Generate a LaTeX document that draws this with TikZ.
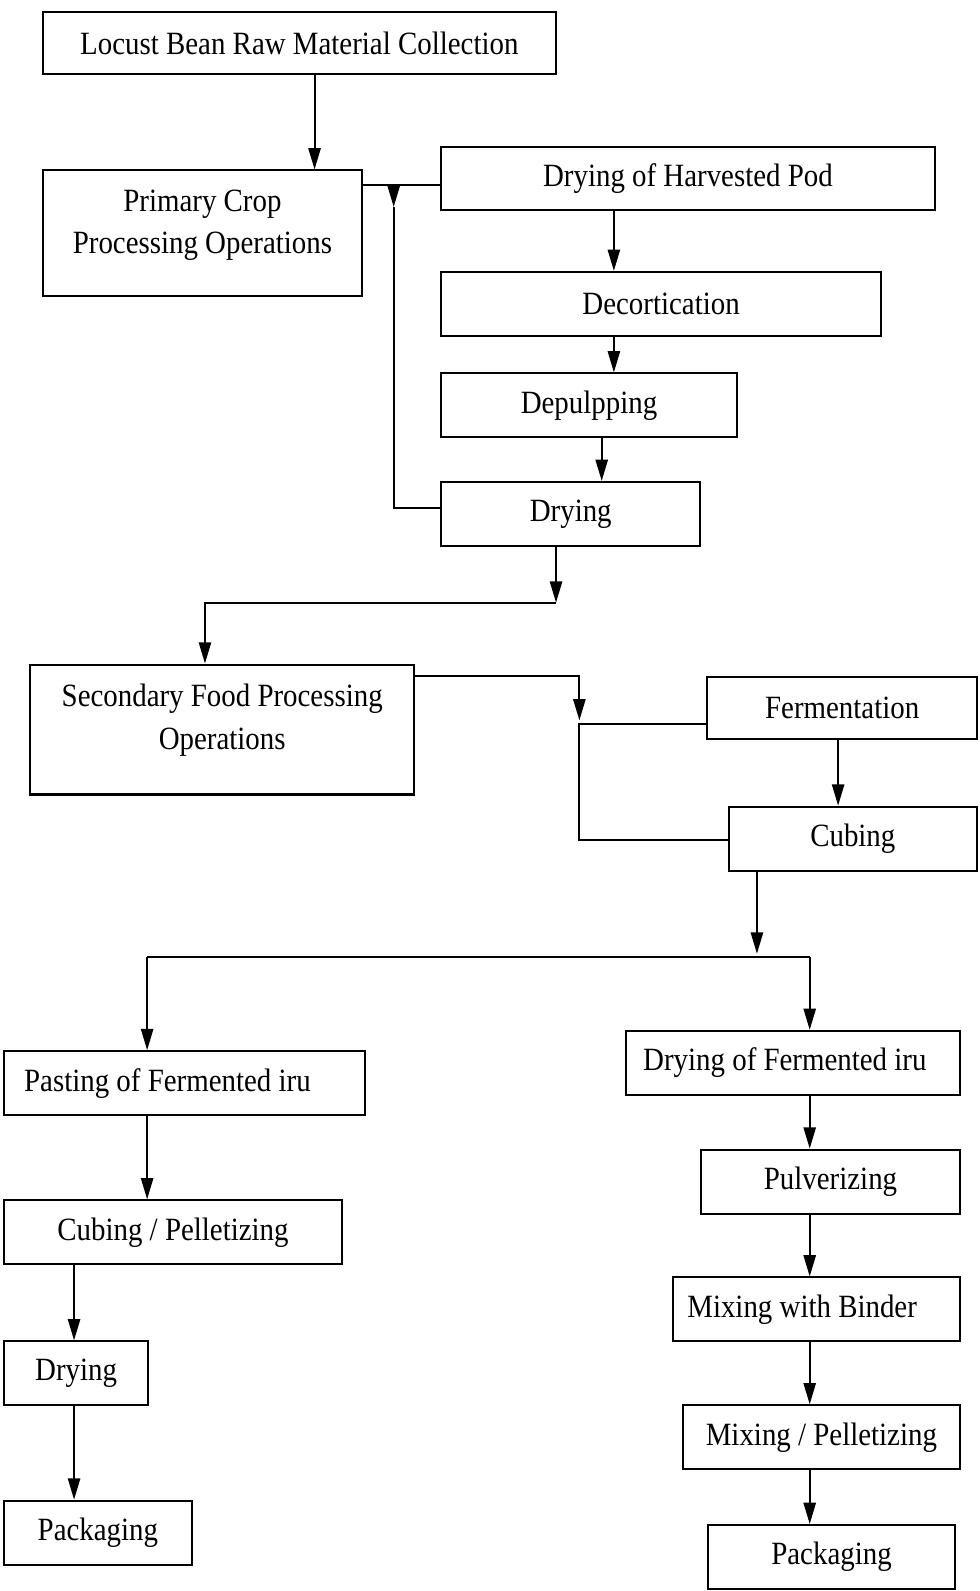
\documentclass[tikz,border=0pt]{standalone}
\usepackage{fontspec}
\setmainfont{Liberation Serif}[FakeStretch=0.89]
\usetikzlibrary{arrows.meta}
\tikzset{
  box/.style={draw, line width=1pt, rectangle, inner sep=0pt, font=\fontsize{16}{21}\selectfont, align=center},
  lbl/.style={font=\fontsize{16}{21}\selectfont, align=center, inner sep=0pt},
  conn/.style={line width=1pt},
  arr/.style={conn, -{Triangle[length=10.5pt,width=6pt]}}
}
\begin{document}
\begin{tikzpicture}[x=0.5pt,y=-0.5pt]
\useasboundingbox (0,0) rectangle (965,1568);
% boxes
\node[box, minimum width=253pt, minimum height=30.5pt] (locust) at (295,42.5) {Locust Bean Raw Material Collection};
\node[box, minimum width=157.5pt, minimum height=62pt,
  label={[lbl, yshift=4pt]center:Primary Crop\\Processing Operations}] (primary) at (199.5,230) {};
\node[box, minimum width=243pt, minimum height=31pt] (dryhp) at (678,176) {Drying of Harvested Pod};
\node[box, minimum width=216.5pt, minimum height=31.5pt] (decort) at (651.5,299.5) {Decortication};
\node[box, minimum width=145.5pt, minimum height=31.5pt] (depulp) at (580.5,399.5) {Depulpping};
\node[box, minimum width=127.5pt, minimum height=31.5pt] (drying1) at (562.5,506.5) {Drying};
\node[box, minimum width=189pt, minimum height=64pt,
  label={[lbl, yshift=4.5pt]center:Secondary Food Processing\\Operations}] (secondary) at (219,719) {};
\node[box, minimum width=133pt, minimum height=30.5pt] (ferment) at (830,697.5) {Fermentation};
\node[box, minimum width=122.5pt, minimum height=31.5pt] (cubing) at (840.5,826.5) {Cubing};
\node[box, minimum width=178pt, minimum height=31.5pt] (pasting) at (182,1067.5) {\hspace*{-17pt}Pasting of Fermented iru};
\node[box, minimum width=164.5pt, minimum height=31.5pt] (dryfi) at (781.5,1047.5) {\hspace*{-8pt}Drying of Fermented iru};
\node[box, minimum width=166.5pt, minimum height=31.5pt] (cubpel) at (170.5,1214.5) {Cubing / Pelletizing};
\node[box, minimum width=71pt, minimum height=31.5pt] (drying2) at (75,1353.5) {Drying};
\node[box, minimum width=92.5pt, minimum height=31.5pt] (pack1) at (96.5,1510.5) {Packaging};
\node[box, minimum width=127.5pt, minimum height=31.5pt] (pulver) at (818.5,1164.5) {Pulverizing};
\node[box, minimum width=141.5pt, minimum height=31.5pt] (mixbind) at (804.5,1290.5) {\hspace*{-14pt}Mixing with Binder};
\node[box, minimum width=136.5pt, minimum height=31.5pt] (mixpel) at (809.5,1416.5) {Mixing / Pelletizing};
\node[box, minimum width=121.5pt, minimum height=31.5pt] (pack2) at (819.5,1534.5) {Packaging};
% coordinates
\coordinate (p1) at (388,182);
\coordinate (p1a) at (388,204);
\coordinate (p2) at (388,501);
\coordinate (j1) at (548,594);
\coordinate (j1l) at (202,594);
\coordinate (s1) at (571,666);
\coordinate (s2) at (571,710);
\coordinate (s3) at (571,714);
\coordinate (s4) at (571,828);
\coordinate (c1) at (746,940);
\coordinate (cl) at (145,943);
\coordinate (cr) at (798,943);
% connectors
\draw[arr] (locust.south -| 310,0) -- (primary.north -| 310,0);
\draw[conn] (primary.east |- p1) -- (dryhp.west |- p1);
\draw[arr] (p1) -- (p1a);
\draw[conn] (p1a) -- (p2) -- (drying1.west |- p2);
\draw[arr] (dryhp.south -| 605,0) -- (decort.north -| 605,0);
\draw[arr] (decort.south -| 605,0) -- (depulp.north -| 605,0);
\draw[arr] (depulp.south -| 593,0) -- (drying1.north -| 593,0);
\draw[arr] (drying1.south -| j1) -- (j1);
\draw[arr] (j1) -- (j1l) -- (secondary.north -| j1l);
\draw[arr] (secondary.east |- s1) -- (s1) -- (s2);
\draw[conn] (ferment.west |- s3) -- (s3) -- (s4) -- (cubing.west |- s4);
\draw[arr] (ferment.south -| 826,0) -- (cubing.north -| 826,0);
\draw[arr] (cubing.south -| c1) -- (c1);
\draw[conn] (cl) -- (cr);
\draw[arr] (cl) -- (pasting.north -| cl);
\draw[arr] (cr) -- (dryfi.north -| cr);
\draw[arr] (pasting.south -| cl) -- (cubpel.north -| cl);
\draw[arr] (cubpel.south -| 73,0) -- (drying2.north -| 73,0);
\draw[arr] (drying2.south -| 73,0) -- (pack1.north -| 73,0);
\draw[arr] (dryfi.south -| cr) -- (pulver.north -| cr);
\draw[arr] (pulver.south -| cr) -- (mixbind.north -| cr);
\draw[arr] (mixbind.south -| cr) -- (mixpel.north -| cr);
\draw[arr] (mixpel.south -| cr) -- (pack2.north -| cr);
\end{tikzpicture}
\end{document}
